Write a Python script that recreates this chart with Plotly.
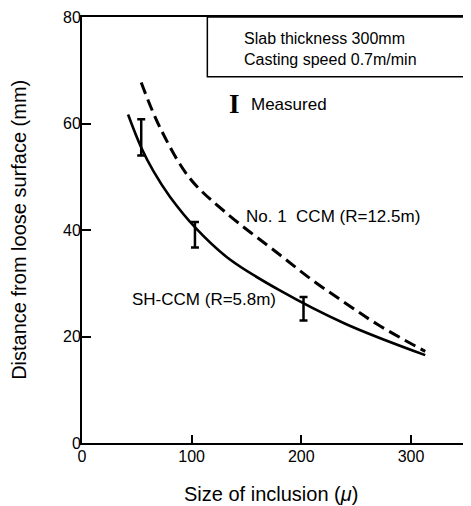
import plotly.graph_objects as go

# SH-CCM (R=5.8m) computed curve (solid)
sh_x = [42, 54, 65, 80, 104, 134, 180, 240, 313]
sh_y = [61.7, 55.5, 51.1, 46.3, 40.3, 34.6, 28.7, 22.4, 16.5]

# No. 1 CCM (R=12.5m) computed curve (dashed)
no1_x = [54, 71, 98, 131, 180, 210, 240, 270, 313]
no1_y = [67.7, 59.3, 49.8, 43.3, 35.4, 30.6, 26.3, 22.2, 17.2]

# Measured values (range bars)
meas_x = [54, 103, 202]
meas_y = [57.4, 39.1, 25.2]
meas_err = [3.4, 2.4, 2.2]

x_ticks = [0, 100, 200, 300]
y_ticks = [0, 20, 40, 60, 80]

FONT = "Liberation Sans, Arial, Helvetica, sans-serif"

fig = go.Figure()
fig.add_trace(go.Scatter(x=no1_x, y=no1_y, mode="lines", line_shape="spline",
                         line=dict(color="black", width=3, dash="12px,6px"),
                         showlegend=False, hoverinfo="skip"))
fig.add_trace(go.Scatter(x=sh_x, y=sh_y, mode="lines", line_shape="spline",
                         line=dict(color="black", width=2.6),
                         showlegend=False, hoverinfo="skip"))
fig.add_trace(go.Scatter(x=meas_x, y=meas_y, mode="markers",
                         marker=dict(size=1, color="rgba(0,0,0,0)"),
                         error_y=dict(type="data", array=meas_err, visible=True,
                                      color="black", thickness=2.5, width=4),
                         showlegend=False, hoverinfo="skip"))

# Text box
fig.add_shape(type="rect", xref="x", yref="y", x0=114.3, x1=352, y0=68.8, y1=80,
              line=dict(color="black", width=1.5), fillcolor="white", layer="above")

def ann(text, x, y, size=17, **kw):
    fig.add_annotation(text=text, x=x, y=y, xref="x", yref="y", showarrow=False,
                       xanchor="left", yanchor="middle", align="left",
                       font=dict(family=kw.pop("family", FONT), size=size, color="black"), **kw)

ann("Slab thickness 300mm<br>Casting speed 0.7m/min", 146, 74.0, size=16)
ann("<b>I</b>", 132.0, 63.6, size=27, family="Liberation Serif, Times New Roman, serif")
ann("Measured", 152.4, 63.6)
ann("No. 1\u00a0\u00a0CCM (R=12.5m)", 147.9, 42.6)
ann("SH-CCM (R=5.8m)", 43.5, 27.0)

# Axis titles
fig.add_annotation(text="Size of inclusion (<i>\u03bc</i>)", xref="paper", yref="paper",
                   x=(272 - 82) / 388, y=(443 - 494) / 427, showarrow=False,
                   xanchor="center", yanchor="middle",
                   font=dict(family=FONT, size=20, color="black"))
fig.add_annotation(text="Distance from loose surface (mm)", xref="paper", yref="paper",
                   x=(18 - 82) / 388, y=(443 - 229) / 427, showarrow=False, textangle=-90,
                   xanchor="center", yanchor="middle",
                   font=dict(family=FONT, size=20, color="black"))

axis_common = dict(showgrid=False, zeroline=False, showline=True, linecolor="black",
                   linewidth=2, mirror=True, ticks="inside", tickcolor="black",
                   tickwidth=2, ticklabeloverflow="allow",
                   tickfont=dict(family=FONT, size=16, color="black"))

fig.update_xaxes(range=[0, 352], tickvals=x_ticks, ticktext=[str(v) for v in x_ticks],
                 ticklen=8, ticklabelstandoff=-2, **axis_common)
fig.update_yaxes(range=[0, 80], tickvals=y_ticks, ticktext=[str(v) for v in y_ticks],
                 ticklen=9, ticklabelstandoff=-4, **axis_common)

# the page body adds an 8px offset, so the figure is sized to end at the window edge
fig.update_layout(width=463, height=498, margin=dict(l=74, r=1, t=8, b=63),
                  plot_bgcolor="white", paper_bgcolor="white", showlegend=False)

fig.write_html("out.html")
